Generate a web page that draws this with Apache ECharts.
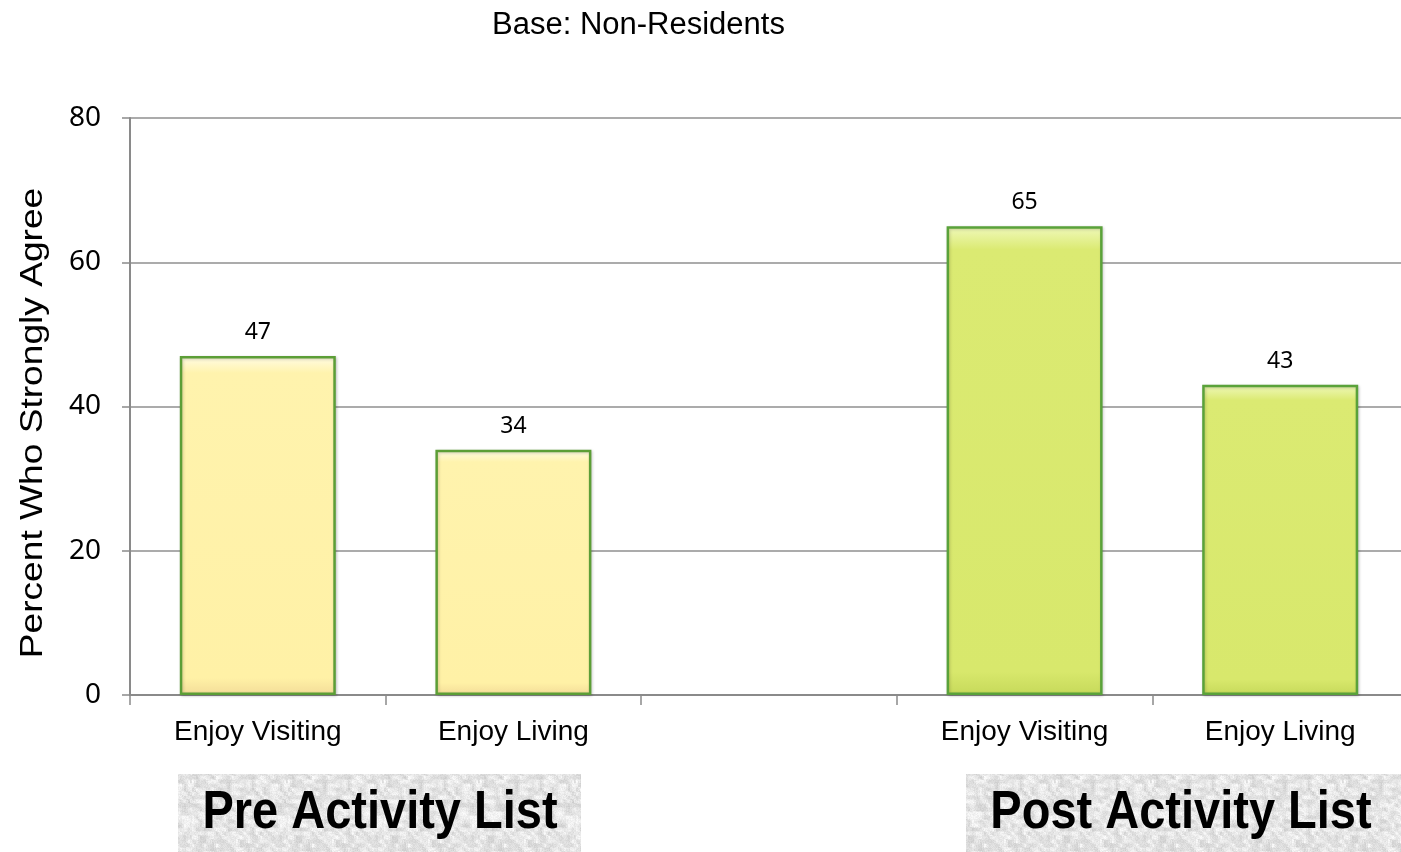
<!DOCTYPE html>
<html>
<head>
<meta charset="utf-8">
<title>Percent Who Strongly Agree</title>
<script src="https://cdn.jsdelivr.net/npm/echarts@6/dist/echarts.min.js"></script>
<style>
  html, body { margin: 0; padding: 0; background: #ffffff; overflow: hidden; }
  #chart { width: 1410px; height: 852px; }
</style>
</head>
<body>
<div id="chart"></div>
<script>
// Categories along the x axis; the empty slot separates the two groups.
const categories = ['Enjoy Visiting', 'Enjoy Living', '', 'Enjoy Visiting', 'Enjoy Living'];
// Percent who strongly agree, per category.
const values = [47, 34, null, 65, 43];
// Which group each category belongs to ('pre' / 'post').
const groups = ['pre', 'pre', null, 'post', 'post'];
// Y axis ticks.
const yTicks = [0, 20, 40, 60, 80];
// Group captions under the axis.
const groupCaptions = ['Pre Activity List', 'Post Activity List'];
const titleText = 'Base: Non-Residents';
const yAxisTitle = 'Percent Who Strongly Agree';

const palette = {
  pre: {
    stops: ['#fffce6', '#fff3ad', '#fff1a6', '#f3dc98'],
    border: '#5c9e36'
  },
  post: {
    stops: ['#f0f9bc', '#dbea72', '#d8e86c', '#c6d95a'],
    border: '#5aa23a'
  }
};

function barStyle(g) {
  const p = palette[g];
  return {
    color: {
      type: 'linear', x: 0, y: 0, x2: 0, y2: 1,
      colorStops: [
        { offset: 0, color: p.stops[0] },
        { offset: 0.05, color: p.stops[1] },
        { offset: 0.95, color: p.stops[2] },
        { offset: 1, color: p.stops[3] }
      ]
    },
    borderColor: p.border,
    borderWidth: 2.5,
    shadowColor: 'rgba(0,0,0,0.18)',
    shadowBlur: 3,
    shadowOffsetX: 1,
    shadowOffsetY: 1
  };
}

// Speckled grey texture for the caption boxes (deterministic hash noise).
function makeTexture() {
  const c = document.createElement('canvas');
  c.width = 96; c.height = 96;
  const ctx = c.getContext('2d');
  const img = ctx.createImageData(96, 96);
  function h(x, y) {
    let n = x * 374761393 + y * 668265263;
    n = (n ^ (n >>> 13)) * 1274126177;
    n = n ^ (n >>> 16);
    return ((n >>> 0) % 1000) / 1000;
  }
  for (let y = 0; y < 96; y++) {
    for (let x = 0; x < 96; x++) {
      // blend a coarse and a fine noise octave
      const coarse = (h(x >> 2, y >> 2) + h((x + 2) >> 2, (y + 1) >> 2)) / 2;
      const fine = h(x, y);
      const v = Math.round(210 + coarse * 36 + (fine - 0.5) * 16);
      const i = (y * 96 + x) * 4;
      img.data[i] = v; img.data[i + 1] = v; img.data[i + 2] = v; img.data[i + 3] = 255;
    }
  }
  ctx.putImageData(img, 0, 0);
  return c;
}
const texture = makeTexture();

const chart = echarts.init(document.getElementById('chart'), null, { renderer: 'canvas' });

const seriesData = values.map((v, i) => (
  v == null ? { value: null } : { value: v, itemStyle: barStyle(groups[i]) }
));

chart.setOption({
  backgroundColor: '#ffffff',
  animation: false,
  title: {
    text: titleText,
    left: 487,
    top: 5,
    textStyle: {
      fontFamily: 'Liberation Sans, Arial, sans-serif',
      fontSize: 31,
      fontWeight: 'normal',
      color: '#000000'
    }
  },
  grid: {
    left: 130,
    top: 118,
    width: 1278,
    height: 577,
    containLabel: false
  },
  xAxis: {
    type: 'category',
    data: categories,
    axisLine: { show: true, lineStyle: { color: '#8a8a8a', width: 2 } },
    axisTick: { show: true, length: 10, lineStyle: { color: '#8a8a8a', width: 1.5 } },
    axisLabel: {
      margin: 23,
      interval: 0,
      fontFamily: 'Liberation Sans, Arial, sans-serif',
      fontSize: 28,
      color: '#000000'
    }
  },
  yAxis: {
    type: 'value',
    min: yTicks[0],
    max: yTicks[yTicks.length - 1],
    interval: yTicks[1] - yTicks[0],
    axisLine: { show: true, lineStyle: { color: '#8a8a8a', width: 2 } },
    axisTick: { show: true, length: 8, lineStyle: { color: '#8a8a8a', width: 1.5 } },
    splitLine: { show: true, lineStyle: { color: '#8f8f8f', width: 1.6 } },
    axisLabel: {
      margin: 29,
      fontFamily: 'Noto Sans, Open Sans, sans-serif',
      fontSize: 28,
      color: '#000000'
    }
  },
  series: [{
    type: 'bar',
    data: seriesData,
    barWidth: 156,
    label: {
      show: true,
      position: 'top',
      distance: 12,
      fontFamily: 'Noto Sans, Open Sans, sans-serif',
      fontSize: 23,
      color: '#000000',
      backgroundColor: '#ffffff',
      padding: [2, 10, 0, 10]
    }
  }],
  graphic: [
    {
      type: 'text',
      x: 33,
      y: 423,
      rotation: Math.PI / 2,
      scaleX: 1.16,
      style: {
        text: yAxisTitle,
        fontFamily: 'Liberation Sans, Arial, sans-serif',
        fontSize: 32,
        fill: '#000000',
        align: 'center',
        verticalAlign: 'middle'
      }
    },
    {
      type: 'rect',
      shape: { x: 178, y: 774, width: 403, height: 80 },
      style: { fill: { image: texture, repeat: 'repeat' } }
    },
    {
      type: 'text',
      x: 380,
      y: 813,
      scaleY: 1.15,
      style: {
        text: groupCaptions[0],
        fontFamily: 'Liberation Sans, Arial, sans-serif',
        fontWeight: 'bold',
        fontSize: 47,
        fill: '#000000',
        align: 'center',
        verticalAlign: 'middle'
      }
    },
    {
      type: 'rect',
      shape: { x: 966, y: 774, width: 440, height: 80 },
      style: { fill: { image: texture, repeat: 'repeat' } }
    },
    {
      type: 'text',
      x: 1181,
      y: 813,
      scaleY: 1.15,
      style: {
        text: groupCaptions[1],
        fontFamily: 'Liberation Sans, Arial, sans-serif',
        fontWeight: 'bold',
        fontSize: 47,
        fill: '#000000',
        align: 'center',
        verticalAlign: 'middle'
      }
    }
  ]
});
</script>
</body>
</html>
